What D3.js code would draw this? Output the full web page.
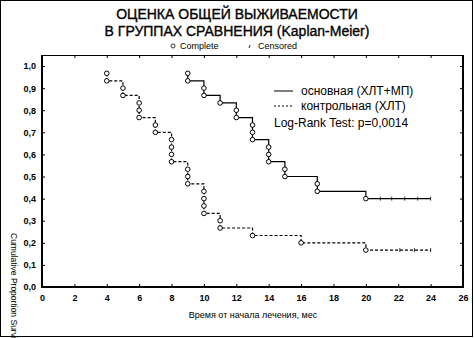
<!DOCTYPE html>
<html lang="ru">
<head>
  <meta charset="UTF-8">
  <script src="https://cdn.jsdelivr.net/npm/d3@7"></script>
  <title>Kaplan-Meier</title>
  <style>
    body { margin: 0; background: #fff; }
    * { font-family: 'Liberation Sans', Arial, sans-serif; }
    text { fill: #000; }
  </style>
</head>
<body>
  <svg id="chart" width="474" height="338"></svg>
  <script>
    // основная группа (ХЛТ+МП): complete observations
    const mainTimes = [9, 9, 10, 10, 11, 12, 12, 13, 13, 13, 14, 14, 14, 15, 15, 17, 17, 20];
    const mainSurv = [0.967, 0.933, 0.9, 0.867, 0.833, 0.8, 0.767, 0.733, 0.7, 0.667, 0.633, 0.6, 0.567, 0.533, 0.5, 0.467, 0.433, 0.4];
    const mainCensored = [20.9, 21.6, 22.4, 23.2, 24];

    // контрольная группа (ХЛТ)
    const ctrlTimes = [4, 4, 5, 5, 6, 6, 6, 7, 7, 8, 8, 8, 8, 9, 9, 9, 10, 10, 10, 10, 11, 11, 13, 16, 20];
    const ctrlSurv = [0.967, 0.933, 0.9, 0.867, 0.833, 0.8, 0.767, 0.733, 0.7, 0.667, 0.633, 0.6, 0.567, 0.533, 0.5, 0.467, 0.433, 0.4, 0.367, 0.333, 0.3, 0.267, 0.233, 0.2, 0.167];
    const ctrlCensored = [22.1, 23.0, 24];

    const xTicks = d3.range(0, 27, 2);
    const yTicks = d3.range(0, 1.01, 0.1);
    const legendNames = ["основная (ХЛТ+МП)", "контрольная (ХЛТ)"];

    const svg = d3.select("#chart");
    const pl = 42, pr = 463, pt = 55, pb = 287;

    const x = d3.scaleLinear().domain([0, 26]).range([pl, pr]);
    const y = d3.scaleLinear().domain([0, 1.05]).range([pb, pt]);

    // outer border
    svg.append("rect").attr("x", 0.5).attr("y", 0.5).attr("width", 472).attr("height", 336)
      .attr("fill", "none").attr("stroke", "#000");

    // titles
    svg.append("text").attr("x", 237).attr("y", 19).attr("text-anchor", "middle")
      .style("font-size", "14px").attr("stroke", "#000").attr("stroke-width", 0.35)
      .text("ОЦЕНКА ОБЩЕЙ ВЫЖИВАЕМОСТИ");
    svg.append("text").attr("x", 237).attr("y", 36).attr("text-anchor", "middle")
      .style("font-size", "14px").attr("stroke", "#000").attr("stroke-width", 0.35)
      .text("В ГРУППАХ СРАВНЕНИЯ (Kaplan-Meier)");

    // top legend
    svg.append("circle").attr("cx", 173).attr("cy", 46).attr("r", 2)
      .attr("fill", "#fff").attr("stroke", "#000").attr("stroke-width", 0.8);
    svg.append("text").attr("x", 180).attr("y", 49).style("font-size", "9px").text("Complete");
    svg.append("line").attr("x1", 250).attr("x2", 249).attr("y1", 45).attr("y2", 48)
      .attr("stroke", "#000").attr("stroke-width", 0.8);
    svg.append("text").attr("x", 258).attr("y", 49).style("font-size", "9px").text("Censored");

    // axes with inward ticks
    const fmt = d => d3.format(".1f")(d).replace(".", ",");
    svg.append("g").attr("transform", `translate(0,${pb})`)
      .call(d3.axisBottom(x).tickValues(xTicks).tickSize(-3).tickPadding(8).tickFormat(d3.format("d")));
    svg.append("g").attr("transform", `translate(${pl},0)`)
      .call(d3.axisLeft(y).tickValues(yTicks).tickSize(-3).tickPadding(6).tickFormat(fmt));
    svg.append("g").attr("transform", `translate(0,${pt})`)
      .call(d3.axisTop(x).tickValues(xTicks).tickSize(-3).tickFormat(""));
    svg.append("g").attr("transform", `translate(${pr},0)`)
      .call(d3.axisRight(y).tickValues(yTicks).tickSize(-3).tickFormat(""));
    svg.selectAll(".domain").remove();
    svg.selectAll(".tick line").attr("stroke", "#000");
    svg.selectAll(".tick text").style("font-size", "9px").style("font-weight", "bold")
      .style("font-family", "'Liberation Sans', Arial, sans-serif");

    // frame
    svg.append("line").attr("x1", pl).attr("x2", pl).attr("y1", pt).attr("y2", pb + 1).attr("stroke", "#000").attr("stroke-width", 2);
    svg.append("line").attr("x1", pl - 1).attr("x2", pr + 1).attr("y1", pb).attr("y2", pb).attr("stroke", "#000").attr("stroke-width", 2);
    svg.append("line").attr("x1", pl).attr("x2", pr).attr("y1", pt + 0.5).attr("y2", pt + 0.5).attr("stroke", "#000");
    svg.append("line").attr("x1", pr).attr("x2", pr).attr("y1", pt).attr("y2", pb).attr("stroke", "#000").attr("stroke-width", 2);

    // axis titles
    svg.append("text").attr("x", 253).attr("y", 318).attr("text-anchor", "middle")
      .style("font-size", "9px").text("Время от начала лечения, мес");
    svg.append("text").attr("transform", "translate(11,233) rotate(90)")
      .style("font-size", "8.5px").text("Cumulative Proportion Surviving");

    // step path of a Kaplan-Meier curve
    function kmPath(times, surv, censored) {
      const p = d3.path();
      p.moveTo(x(times[0]), y(surv[0]));
      for (let i = 1; i < times.length; i++) {
        if (times[i] !== times[i - 1]) p.lineTo(x(times[i]), y(surv[i - 1]));
        p.lineTo(x(times[i]), y(surv[i]));
      }
      p.lineTo(x(d3.max(censored)), y(surv[surv.length - 1]));
      return p.toString();
    }

    const groups = [
      { times: mainTimes, surv: mainSurv, cens: mainCensored, dash: null },
      { times: ctrlTimes, surv: ctrlSurv, cens: ctrlCensored, dash: "3,2" }
    ];

    groups.forEach(g => {
      svg.append("path").attr("d", kmPath(g.times, g.surv, g.cens))
        .attr("fill", "none").attr("stroke", "#000").attr("stroke-width", 1.2)
        .attr("stroke-dasharray", g.dash);
      const last = g.surv[g.surv.length - 1];
      svg.selectAll(null).data(g.cens).enter().append("line")
        .attr("x1", d => x(d)).attr("x2", d => x(d))
        .attr("y1", y(last) - 2).attr("y2", y(last) + 2)
        .attr("stroke", "#000").attr("stroke-width", 0.8);
      svg.selectAll(null).data(g.times.map((t, i) => [t, g.surv[i]])).enter().append("circle")
        .attr("cx", d => x(d[0])).attr("cy", d => y(d[1])).attr("r", 2.3)
        .attr("fill", "#fff").attr("stroke", "#000").attr("stroke-width", 1);
    });

    // legend inside the plot
    const lg = svg.append("g");
    legendNames.forEach((name, i) => {
      lg.append("line").attr("x1", 274).attr("x2", 293).attr("y1", 91 + i * 15).attr("y2", 91 + i * 15)
        .attr("stroke", "#000").attr("stroke-dasharray", groups[i].dash ? "2,2" : null);
      lg.append("text").attr("x", 301).attr("y", 95 + i * 15).style("font-size", "12px").text(name);
    });
    lg.append("text").attr("x", 274).attr("y", 127).style("font-size", "12px").text("Log-Rank Test: p=0,0014");
  </script>
</body>
</html>
